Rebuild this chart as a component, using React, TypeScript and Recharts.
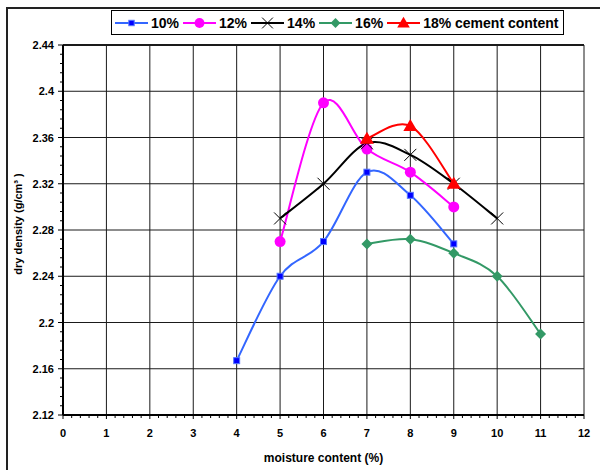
import React from 'react';
import { LineChart, Line, XAxis, YAxis, ReferenceLine, Legend, Label } from 'recharts';

// ---------- data ----------
const moisture = [4, 5, 6, 7, 8, 9, 10, 11];
const cement10 = [2.167, 2.24, 2.27, 2.33, 2.31, 2.268, null, null];
const cement12 = [null, 2.27, 2.39, 2.35, 2.33, 2.3, null, null];
const cement14 = [null, 2.29, 2.32, 2.355, 2.345, 2.32, 2.29, null];
const cement16 = [null, null, null, 2.268, 2.272, 2.26, 2.24, 2.19];
const cement18 = [null, null, null, 2.359, 2.37, 2.32, null, null];

const seriesNames = ['10%', '12%', '14%', '16%', '18% cement content'];
const xMajorTicks = [0, 1, 2, 3, 4, 5, 6, 7, 8, 9, 10, 11, 12];
const yMajorTicks = [2.12, 2.16, 2.2, 2.24, 2.28, 2.32, 2.36, 2.4, 2.44];
const minorDivisions = 5;

const data = moisture.map((x, i) => ({
  x,
  c10: cement10[i],
  c12: cement12[i],
  c14: cement14[i],
  c16: cement16[i],
  c18: cement18[i],
}));

const withMinor = (majors: number[]) => {
  const out: number[] = [];
  for (let i = 0; i < majors.length - 1; i++) {
    for (let k = 0; k < minorDivisions; k++) {
      out.push(+(majors[i] + ((majors[i + 1] - majors[i]) * k) / minorDivisions).toFixed(4));
    }
  }
  out.push(majors[majors.length - 1]);
  return out;
};
const xAllTicks = withMinor(xMajorTicks);
const yAllTicks = withMinor(yMajorTicks);
const isMajor = (v: number, majors: number[]) => majors.some((m) => Math.abs(m - v) < 1e-6);

const FONT = "'Liberation Sans', Arial, sans-serif";

// Excel-like smoothing (Catmull-Rom via cubic Bezier)
function excelSmooth(context: any) {
  let pts: number[][] = [];
  return {
    areaStart() {},
    areaEnd() {},
    lineStart() {
      pts = [];
    },
    lineEnd() {
      const n = pts.length;
      if (!n) return;
      context.moveTo(pts[0][0], pts[0][1]);
      for (let i = 0; i < n - 1; i++) {
        const p0 = pts[Math.max(i - 1, 0)];
        const p1 = pts[i];
        const p2 = pts[i + 1];
        const p3 = pts[Math.min(i + 2, n - 1)];
        context.bezierCurveTo(
          p1[0] + (p2[0] - p0[0]) / 6,
          p1[1] + (p2[1] - p0[1]) / 6,
          p2[0] - (p3[0] - p1[0]) / 6,
          p2[1] - (p3[1] - p1[1]) / 6,
          p2[0],
          p2[1]
        );
      }
    },
    point(x: number, y: number) {
      pts.push([+x, +y]);
    },
  };
}

type Shape = 'square' | 'circle' | 'cross' | 'diamond' | 'triangle';

function Marker({ shape, cx, cy, scale = 1 }: { shape: Shape; cx: number; cy: number; scale?: number }) {
  if (cx == null || cy == null || isNaN(cx) || isNaN(cy)) return null;
  const s = scale;
  switch (shape) {
    case 'square':
      return <rect x={cx - 3 * s} y={cy - 3 * s} width={6 * s} height={6 * s} fill="#0000FF" stroke="#5577FF" strokeWidth={1} />;
    case 'circle':
      return <circle cx={cx} cy={cy} r={5.5 * s} fill="#FF00FF" />;
    case 'cross':
      return (
        <path
          d={`M${cx - 6 * s},${cy - 6 * s}L${cx + 6 * s},${cy + 6 * s}M${cx - 6 * s},${cy + 6 * s}L${cx + 6 * s},${cy - 6 * s}`}
          stroke="#000"
          strokeWidth={1}
          fill="none"
        />
      );
    case 'diamond':
      return <path d={`M${cx},${cy - 5.5 * s}L${cx + 5.5 * s},${cy}L${cx},${cy + 5.5 * s}L${cx - 5.5 * s},${cy}Z`} fill="#339966" />;
    case 'triangle':
      return <path d={`M${cx},${cy - 7 * s}L${cx + 7 * s},${cy + 5 * s}L${cx - 7 * s},${cy + 5 * s}Z`} fill="#FF0000" />;
  }
  return null;
}

const seriesDefs: { key: string; color: string; shape: Shape }[] = [
  { key: 'c10', color: '#3366FF', shape: 'square' },
  { key: 'c12', color: '#FF00FF', shape: 'circle' },
  { key: 'c14', color: '#000000', shape: 'cross' },
  { key: 'c16', color: '#339966', shape: 'diamond' },
  { key: 'c18', color: '#FF0000', shape: 'triangle' },
];
const shapeByKey: Record<string, Shape> = Object.fromEntries(seriesDefs.map((d) => [d.key, d.shape]));

const XTick = (props: any) => {
  const { x, y, payload } = props;
  const major = isMajor(payload.value, xMajorTicks);
  return (
    <g>
      <line x1={x} x2={x} y1={y} y2={y + (major ? 4 : 3)} stroke="#000" strokeWidth={1} />
      {major && (
        <text x={x} y={y + 22} textAnchor="middle" fontSize={11} fontWeight="bold" fontFamily={FONT} fill="#000">
          {payload.value}
        </text>
      )}
    </g>
  );
};

const YTick = (props: any) => {
  const { x, y, payload } = props;
  const major = isMajor(payload.value, yMajorTicks);
  return (
    <g>
      <line x1={x - (major ? 5 : 3)} x2={x} y1={y} y2={y} stroke="#000" strokeWidth={1} />
      {major && (
        <text x={x - 9} y={y + 4} textAnchor="end" fontSize={11} fontWeight="bold" fontFamily={FONT} fill="#000">
          {String(Number(payload.value.toFixed(3)))}
        </text>
      )}
    </g>
  );
};

const renderLegend = (props: any) => {
  const { payload } = props;
  return (
    <div
      style={{
        boxSizing: 'border-box',
        width: 453,
        height: 25,
        border: '1px solid #000',
        background: '#fff',
        display: 'flex',
        alignItems: 'center',
        paddingLeft: 3,
        fontFamily: FONT,
        fontWeight: 'bold',
        fontSize: 14,
        color: '#000',
        whiteSpace: 'nowrap',
      }}
    >
      {(payload || []).map((entry: any) => (
        <div key={entry.dataKey} style={{ display: 'flex', alignItems: 'center', marginRight: 4 }}>
          <svg width={33} height={16} style={{ display: 'block' }}>
            <line x1={0} x2={33} y1={8} y2={8} stroke={entry.color} strokeWidth={2} />
            <Marker shape={shapeByKey[entry.dataKey]} cx={16.5} cy={8} scale={0.9} />
          </svg>
          <span style={{ marginLeft: 3 }}>{entry.value}</span>
        </div>
      ))}
    </div>
  );
};

const renderXTitle = (props: any) => {
  const vb = props.viewBox || {};
  return (
    <text x={vb.x + vb.width / 2} y={462} textAnchor="middle" fontSize={12} fontWeight="bold" fontFamily={FONT} fill="#000">
      moisture content (%)
    </text>
  );
};

const renderYTitle = (props: any) => {
  const vb = props.viewBox || {};
  const cx = 22;
  const cy = vb.y + vb.height / 2 - 6;
  return (
    <text x={cx} y={cy} transform={`rotate(-90, ${cx}, ${cy})`} textAnchor="middle" fontSize={11} fontWeight="bold" fontFamily={FONT} fill="#000">
      dry density (g/cm³ )
    </text>
  );
};

export default function App() {
  return (
    <div style={{ position: 'absolute', left: 0, top: 0, width: 600, height: 470, overflow: 'hidden', background: '#fff' }}>
      <div
        style={{
          position: 'absolute',
          left: 6,
          top: 7,
          width: 700,
          height: 600,
          border: '2px solid #222',
          boxSizing: 'border-box',
        }}
      />
      <div style={{ position: 'absolute', left: 0, top: 0 }}>
        <LineChart width={600} height={470} data={data} margin={{ top: 45, right: 16, bottom: 0, left: 0 }}>
          <XAxis
            dataKey="x"
            type="number"
            domain={[0, 12]}
            ticks={xAllTicks}
            interval={0}
            tick={<XTick />}
            tickLine={false}
            tickSize={0}
            tickMargin={0}
            height={55}
            axisLine={{ stroke: '#000', strokeWidth: 2 }}
            allowDataOverflow
          >
            <Label content={renderXTitle} />
          </XAxis>
          <YAxis
            type="number"
            domain={[2.12, 2.44]}
            ticks={yAllTicks}
            interval={0}
            tick={<YTick />}
            tickLine={false}
            tickSize={0}
            tickMargin={0}
            width={63}
            axisLine={{ stroke: '#000', strokeWidth: 2 }}
            allowDataOverflow
          >
            <Label content={renderYTitle} />
          </YAxis>
          {xMajorTicks.slice(1).map((v) => (
            <ReferenceLine key={`gx${v}`} x={v} stroke="#1a1a1a" strokeWidth={1} />
          ))}
          {yMajorTicks.slice(1).map((v) => (
            <ReferenceLine key={`gy${v}`} y={v} stroke="#1a1a1a" strokeWidth={v === 2.44 ? 2 : 1} />
          ))}
          <Legend
            content={renderLegend}
            layout="vertical"
            verticalAlign="middle"
            align="center"
            wrapperStyle={{ position: 'absolute', top: 10, left: 111, width: 453, height: 25 }}
          />
          {seriesDefs.map((d, i) => (
            <Line
              key={d.key}
              dataKey={d.key}
              name={seriesNames[i]}
              stroke={d.color}
              strokeWidth={2}
              type={excelSmooth as any}
              isAnimationActive={false}
              activeDot={false}
              dot={(p: any) => <Marker key={`${d.key}-${p.index}`} shape={d.shape} cx={p.cx} cy={p.cy} />}
            />
          ))}
        </LineChart>
      </div>
    </div>
  );
}
